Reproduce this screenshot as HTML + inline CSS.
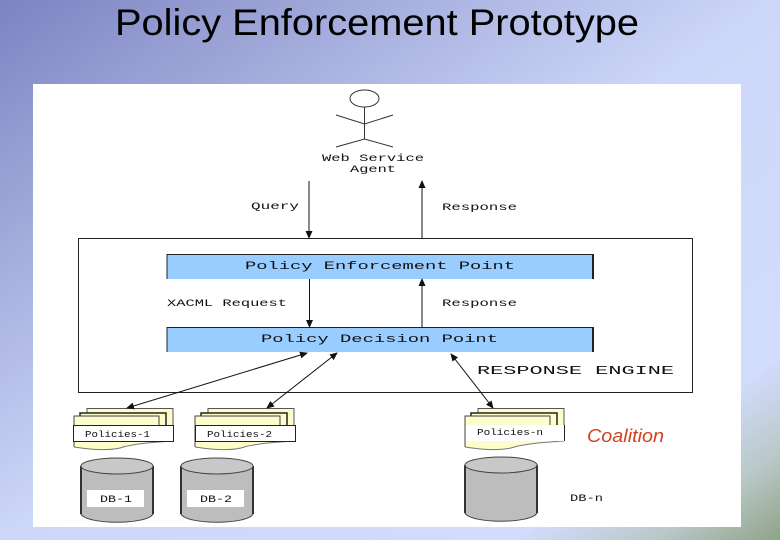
<!DOCTYPE html>
<html><head><meta charset="utf-8"><style>
html,body{margin:0;padding:0;width:780px;height:540px;overflow:hidden}
body{position:relative;background:linear-gradient(to bottom right,#7c84c2 0%,#a6aedd 25%,#cdd7f9 50%,#d2dcfc 83%,#b9c8c8 92%,#8fa388 100%)}
svg{position:absolute;left:0;top:0}
text{font-family:"Liberation Mono",monospace;fill:#111}
</style></head><body>
<svg width="780" height="540" viewBox="0 0 780 540" xmlns="http://www.w3.org/2000/svg">
<defs>
<g id="doc">
<path d="M1 16H7V13H14V8.500H100V41C85 42 68 43 52 46.500C40 51 20 50 1 47Z" fill="#fdfdcc"/>
<path d="M14 13V8.500H100V25" fill="none" stroke="#555" stroke-width="1"/>
<path d="M7 16V13H93V25" fill="none" stroke="#222" stroke-width="1.500"/>
<path d="M1 47V16H86V25" fill="none" stroke="#444" stroke-width="1"/>
<path d="M1 47C20 50 40 51 52 46.500C68 43 85 42 100 41" fill="none" stroke="#777" stroke-width="1"/>
</g>
<g id="db">
<path d="M0 8V56C6 67 66 67 72 56V8Z" fill="#bdbdbd" stroke="#444" stroke-width="1"/>
<path d="M0 8V56M72 8V56" stroke="#333" stroke-width="2" fill="none"/>
<ellipse cx="36" cy="8" rx="36" ry="8" fill="#c8c8c8" stroke="#444" stroke-width="1"/>
</g>
<marker id="a" markerWidth="8" markerHeight="8" refX="7" refY="3.500" orient="auto" markerUnits="userSpaceOnUse"><path d="M0 0L8 3.500L0 7Z" fill="#111"/></marker>
<marker id="b" markerWidth="8" markerHeight="8" refX="7" refY="3.500" orient="auto-start-reverse" markerUnits="userSpaceOnUse"><path d="M0 0L8 3.500L0 7Z" fill="#111"/></marker>
</defs>
<text x="115" y="35" textLength="524" lengthAdjust="spacingAndGlyphs" style="font-family:'Liberation Sans',sans-serif;font-size:37px;fill:#000">Policy Enforcement Prototype</text>
<rect x="33" y="84" width="708" height="443" fill="#fff"/>
<!-- actor -->
<g fill="none" stroke="#333" stroke-width="1">
<ellipse cx="364.500" cy="98.500" rx="14.500" ry="8.500"/>
<path d="M364.500 107V139M336 115L364.500 124L393 115M336 147L364.500 139L393 147"/>
</g>
<text x="322" y="161" font-size="10" textLength="102" lengthAdjust="spacingAndGlyphs">Web Service</text>
<text x="350" y="172" font-size="10" textLength="46" lengthAdjust="spacingAndGlyphs">Agent</text>
<!-- outer -->
<rect x="78.500" y="238.500" width="614" height="154" fill="#fff" stroke="#222" stroke-width="1"/>
<g stroke="#111" stroke-width="1" fill="none">
<path d="M309 181V238" marker-end="url(#a)"/>
<path d="M422 238V181" marker-end="url(#a)"/>
</g>
<text x="251" y="209" font-size="10" textLength="48" lengthAdjust="spacingAndGlyphs">Query</text>
<text x="442" y="210" font-size="10" textLength="75" lengthAdjust="spacingAndGlyphs">Response</text>
<!-- PEP PDP -->
<rect x="167" y="254" width="426" height="25" fill="#99ccff"/>
<path d="M167 279V254.500H593" stroke="#222" stroke-width="1" fill="none"/>
<path d="M593 254V279" stroke="#222" stroke-width="2" fill="none"/>
<rect x="167" y="327" width="426" height="25" fill="#99ccff"/>
<path d="M167 352V327.500H593" stroke="#222" stroke-width="1" fill="none"/>
<path d="M593 327V352" stroke="#222" stroke-width="2" fill="none"/>
<text x="245" y="269" font-size="11" textLength="270" lengthAdjust="spacingAndGlyphs">Policy Enforcement Point</text>
<text x="261" y="342" font-size="11" textLength="237" lengthAdjust="spacingAndGlyphs">Policy Decision Point</text>
<g stroke="#111" stroke-width="1" fill="none">
<path d="M309.500 279V327" marker-end="url(#a)"/>
<path d="M422 327V279" marker-end="url(#a)"/>
</g>
<text x="167" y="306" font-size="10" textLength="120" lengthAdjust="spacingAndGlyphs">XACML Request</text>
<text x="442" y="306" font-size="10" textLength="75" lengthAdjust="spacingAndGlyphs">Response</text>
<text x="477" y="374" font-size="12" textLength="197" lengthAdjust="spacingAndGlyphs">RESPONSE ENGINE</text>
<!-- docs -->
<use href="#doc" x="73" y="400"/>
<use href="#doc" x="194" y="400"/>
<use href="#doc" x="464" y="400"/>
<rect x="73.500" y="425.500" width="100" height="16" fill="#fff" stroke="#222"/>
<rect x="195.500" y="425.500" width="100" height="16" fill="#fff" stroke="#222"/>
<rect x="466" y="425" width="98" height="16" fill="#fff"/>
<path d="M564.500 425V441" stroke="#222"/>
<text x="85" y="437" font-size="9" textLength="65" lengthAdjust="spacingAndGlyphs">Policies-1</text>
<text x="207" y="437" font-size="9" textLength="65" lengthAdjust="spacingAndGlyphs">Policies-2</text>
<text x="477" y="435" font-size="9" textLength="66" lengthAdjust="spacingAndGlyphs">Policies-n</text>
<!-- arrows to docs -->
<g stroke="#111" stroke-width="1" fill="none">
<path d="M127 408L307 353" marker-start="url(#b)" marker-end="url(#b)"/>
<path d="M267 408L337 353" marker-start="url(#b)" marker-end="url(#b)"/>
<path d="M493 408L451 354" marker-start="url(#b)" marker-end="url(#b)"/>
</g>
<!-- db -->
<use href="#db" x="81" y="458"/>
<use href="#db" x="181" y="458"/>
<use href="#db" x="465" y="457"/>
<rect x="87" y="490" width="57" height="17" fill="#fff"/>
<rect x="187" y="490" width="57" height="17" fill="#fff"/>
<text x="100" y="502" font-size="10" textLength="32" lengthAdjust="spacingAndGlyphs">DB-1</text>
<text x="200" y="502" font-size="10" textLength="32" lengthAdjust="spacingAndGlyphs">DB-2</text>
<text x="570" y="501" font-size="10" textLength="33" lengthAdjust="spacingAndGlyphs">DB-n</text>
<text x="587" y="442" textLength="77" lengthAdjust="spacingAndGlyphs" style="font-family:'Liberation Sans',sans-serif;font-style:italic;font-size:18px;fill:#d2401e">Coalition</text>
</svg>
</body></html>
